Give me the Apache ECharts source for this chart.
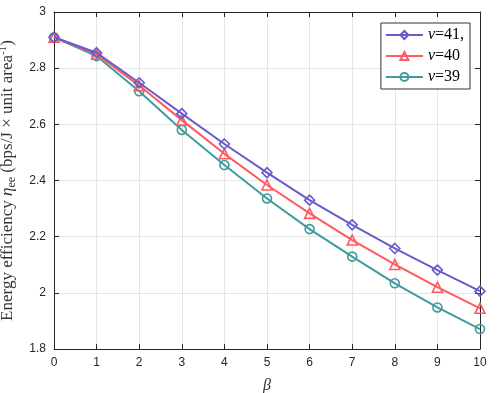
<!DOCTYPE html>
<html>
<head>
<meta charset="utf-8">
<script src="https://cdn.jsdelivr.net/npm/echarts@6/dist/echarts.min.js"></script>
<style>
    html, body { margin: 0; padding: 0; background: #fff; }
    #chart { width: 499px; height: 393px; }
</style>
</head>
<body>
<div id="chart"></div>
<script>
    var betaValues = [0, 1, 2, 3, 4, 5, 6, 7, 8, 9, 10];
    var nu41 = [2.910, 2.855, 2.748, 2.638, 2.530, 2.428, 2.330, 2.242, 2.158, 2.081, 2.006];
    var nu40 = [2.910, 2.850, 2.738, 2.615, 2.495, 2.384, 2.283, 2.188, 2.101, 2.020, 1.945];
    var nu39 = [2.910, 2.843, 2.718, 2.580, 2.455, 2.336, 2.227, 2.129, 2.034, 1.948, 1.871];
    var seriesNames = ['41,', '40', '39'];

    var colors = ['#6a5acd', '#ff5a5f', '#3f9c9c'];
    var symbols = ['diamond', 'triangle', 'circle'];
    var symbolSizes = [10, 10, 9];

    function pairs(arr) {
        return arr.map(function (v, i) { return [betaValues[i], v]; });
    }

    function makeSeries(name, data, idx) {
        return {
            name: name,
            type: 'line',
            data: pairs(data),
            symbol: symbols[idx],
            symbolSize: symbolSizes[idx],
            showAllSymbol: true,
            lineStyle: { color: colors[idx], width: 2 },
            itemStyle: { color: 'rgba(255,255,255,0)', borderColor: colors[idx], borderWidth: 1.6 },
            z: 3 - idx
        };
    }

    var axisColor = '#262626';
    var gridLine = { show: true, lineStyle: { color: '#e6e6e6', width: 1 } };

    var myChart = echarts.init(document.getElementById('chart'));
    var option = {
        animation: false,
        grid: { left: 54, right: 19, top: 12, bottom: 44, outerBoundsMode: 'none', containLabel: false },
        legend: {
            orient: 'vertical',
            right: 29,
            top: 23,
            itemWidth: 37,
            itemHeight: 10,
            itemGap: 5,
            padding: [4, 6, 4, 4],
            borderColor: '#333',
            borderWidth: 1,
            backgroundColor: '#fff',
            data: seriesNames,
            formatter: function (n) { return '{i|ν}=' + n; },
            textStyle: {
                fontFamily: 'Liberation Serif',
                fontSize: 16,
                color: '#000',
                rich: {
                    i: { fontFamily: 'Liberation Serif', fontStyle: 'italic', fontSize: 16, color: '#000' }
                }
            }
        },
        xAxis: [
            {
                type: 'value',
                min: 0,
                max: 10,
                interval: 1,
                name: 'β',
                nameLocation: 'middle',
                nameGap: 29,
                nameTextStyle: { fontFamily: 'Liberation Serif', fontStyle: 'italic', fontSize: 16, color: '#333' },
                axisLine: { show: true, onZero: false, lineStyle: { color: axisColor, width: 1 } },
                axisTick: { show: true, inside: true, length: 5, lineStyle: { color: axisColor } },
                axisLabel: { fontFamily: 'Liberation Sans', fontSize: 12, color: '#262626', margin: 8 },
                splitLine: gridLine
            },
            {
                type: 'value',
                position: 'top',
                min: 0,
                max: 10,
                interval: 1,
                axisLine: { show: true, onZero: false, lineStyle: { color: axisColor, width: 1 } },
                axisTick: { show: true, inside: true, length: 5, lineStyle: { color: axisColor } },
                axisLabel: { show: false },
                splitLine: { show: false }
            }
        ],
        yAxis: [
            {
                type: 'value',
                min: 1.8,
                max: 3,
                interval: 0.2,
                name: '{t|Energy efficiency }{i|η}{sub|ee}{t| (bps/J × unit area}{sup|-1}{t|)}',
                nameLocation: 'middle',
                nameGap: 36,
                nameTextStyle: {
                    color: '#333',
                    rich: {
                        t: { fontFamily: 'Liberation Serif', fontSize: 17, color: '#333' },
                        i: { fontFamily: 'Liberation Serif', fontStyle: 'italic', fontSize: 17, color: '#333' },
                        sub: { fontFamily: 'Liberation Serif', fontSize: 12, color: '#333', padding: [9, 0, 0, 0] },
                        sup: { fontFamily: 'Liberation Serif', fontSize: 11, color: '#333', padding: [0, 0, 9, 0] }
                    }
                },
                axisLine: { show: true, onZero: false, lineStyle: { color: axisColor, width: 1 } },
                axisTick: { show: true, inside: true, length: 5, lineStyle: { color: axisColor } },
                axisLabel: {
                    fontFamily: 'Liberation Sans', fontSize: 12, color: '#262626', margin: 8,
                    formatter: function (v) { return String(+v.toFixed(1)); }
                },
                splitLine: gridLine
            },
            {
                type: 'value',
                position: 'right',
                min: 1.8,
                max: 3,
                interval: 0.2,
                axisLine: { show: true, onZero: false, lineStyle: { color: axisColor, width: 1 } },
                axisTick: { show: true, inside: true, length: 5, lineStyle: { color: axisColor } },
                axisLabel: { show: false },
                splitLine: { show: false }
            }
        ],
        series: [
            makeSeries(seriesNames[0], nu41, 0),
            makeSeries(seriesNames[1], nu40, 1),
            makeSeries(seriesNames[2], nu39, 2)
        ]
    };
    myChart.setOption(option);
</script>
</body>
</html>
